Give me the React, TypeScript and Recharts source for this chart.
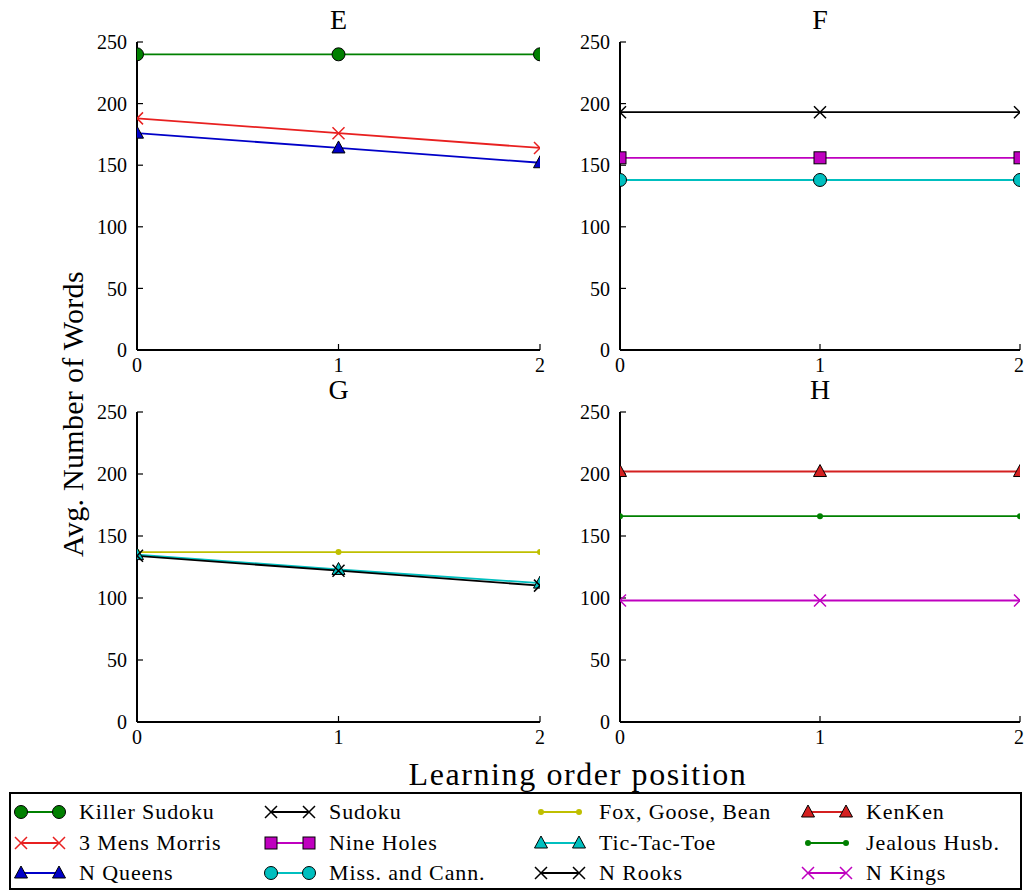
import React from 'react'
import { LineChart, Line, XAxis, YAxis } from 'recharts'

const FONT = '"Liberation Serif", "DejaVu Serif", serif'

const positions = [0, 1, 2]
const yTicks = [0, 50, 100, 150, 200, 250]

// panel E
const killerSudoku = [240, 240, 240]
const mensMorris = [188, 176, 164]
const nQueens = [176, 164, 152]
// panel F
const sudoku = [193, 193, 193]
const nineHoles = [156, 156, 156]
const missCann = [138, 138, 138]
// panel G
const foxGooseBean = [137, 137, 137]
const ticTacToe = [135, 123, 112]
const nRooks = [134, 122, 110]
// panel H
const kenKen = [202, 202, 202]
const jealousHusb = [166, 166, 166]
const nKings = [98, 98, 98]

type Marker = 'circle' | 'x' | 'triangle' | 'square' | 'point'
type Serie = { name: string; values: number[]; color: string; marker: Marker }

const panelE: Serie[] = [
  { name: 'Killer Sudoku', values: killerSudoku, color: '#008000', marker: 'circle' },
  { name: '3 Mens Morris', values: mensMorris, color: '#e82020', marker: 'x' },
  { name: 'N Queens', values: nQueens, color: '#0000c8', marker: 'triangle' },
]
const panelF: Serie[] = [
  { name: 'Sudoku', values: sudoku, color: '#000000', marker: 'x' },
  { name: 'Nine Holes', values: nineHoles, color: '#bf00bf', marker: 'square' },
  { name: 'Miss. and Cann.', values: missCann, color: '#00bfbf', marker: 'circle' },
]
const panelG: Serie[] = [
  { name: 'Fox, Goose, Bean', values: foxGooseBean, color: '#bfbf00', marker: 'point' },
  { name: 'Tic-Tac-Toe', values: ticTacToe, color: '#00bfbf', marker: 'triangle' },
  { name: 'N Rooks', values: nRooks, color: '#000000', marker: 'x' },
]
const panelH: Serie[] = [
  { name: 'KenKen', values: kenKen, color: '#d42020', marker: 'triangle' },
  { name: 'Jealous Husb.', values: jealousHusb, color: '#008000', marker: 'point' },
  { name: 'N Kings', values: nKings, color: '#bf00bf', marker: 'x' },
]

function drawMarker(m: Marker, color: string, cx: number, cy: number, key?: string) {
  switch (m) {
    case 'circle':
      return <circle key={key} cx={cx} cy={cy} r={6.5} fill={color} stroke="#000" strokeWidth={1} />
    case 'square':
      return <rect key={key} x={cx - 6} y={cy - 6} width={12} height={12} fill={color} stroke="#000" strokeWidth={1} />
    case 'triangle':
      return (
        <polygon key={key} points={`${cx},${cy - 7} ${cx + 6.5},${cy + 5} ${cx - 6.5},${cy + 5}`}
          fill={color} stroke="#000" strokeWidth={1} />
      )
    case 'x':
      return (
        <path key={key} d={`M${cx - 6},${cy - 6}L${cx + 6},${cy + 6}M${cx - 6},${cy + 6}L${cx + 6},${cy - 6}`}
          stroke={color} strokeWidth={1.5} fill="none" />
      )
    default:
      return <circle key={key} cx={cx} cy={cy} r={3} fill={color} />
  }
}

const tickStyle = { fill: '#000', fontSize: 20, fontFamily: FONT }
const axisLine = { stroke: '#000', strokeWidth: 2 }
const tickLine = { stroke: '#000', strokeWidth: 1.2 }
const Y_AXIS_W = 60
const X_AXIS_H = 30

type PanelProps = {
  title: string
  series: Serie[]
  left: number
  top: number
  width: number
  height: number
  margin: { top: number; right: number; bottom: number; left: number }
}

function Panel({ title, series, left, top, width, height, margin }: PanelProps) {
  const data = positions.map((p, i) => {
    const row: Record<string, number> = { pos: p }
    series.forEach((s, j) => { row['s' + j] = s.values[i] })
    return row
  })
  const plotLeft = margin.left + Y_AXIS_W
  const plotRight = width - margin.right
  const plotTop = margin.top
  const plotBottom = height - margin.bottom - X_AXIS_H
  // markers are cut at the axes box, like matplotlib does: a nested svg clips its content
  const clipped = (s: Serie, j: number) => (p: any) => (
    <svg key={`m-${title}-${j}-${p.index}`} x={plotLeft} y={plotTop}
      width={plotRight - plotLeft} height={plotBottom - plotTop} overflow="hidden">
      {drawMarker(s.marker, s.color, p.cx - plotLeft, p.cy - plotTop)}
    </svg>
  )
  return (
    <div style={{ position: 'absolute', left, top, width, height }}>
      <div style={{
        position: 'absolute', top: 11, left: (plotLeft + plotRight) / 2 - 40, width: 80,
        textAlign: 'center', fontFamily: FONT, fontSize: 28, lineHeight: '18px',
      }}>
        {title}
      </div>
      <LineChart width={width} height={height} data={data} margin={margin}>
        <XAxis dataKey="pos" type="number" domain={[0, 2]} ticks={positions} allowDataOverflow
          tickSize={-6} tickMargin={14} height={X_AXIS_H} axisLine={axisLine} tickLine={tickLine} tick={tickStyle} />
        <XAxis xAxisId="top" orientation="top" dataKey="pos" type="number" domain={[0, 2]} ticks={positions}
          allowDataOverflow tickSize={-6} height={0} tickFormatter={() => ''} axisLine={axisLine} tickLine={tickLine} />
        <YAxis type="number" domain={[0, 250]} ticks={yTicks} allowDataOverflow
          tickSize={-6} tickMargin={16} width={Y_AXIS_W} axisLine={axisLine} tickLine={tickLine} tick={tickStyle} />
        <YAxis yAxisId="right" orientation="right" type="number" domain={[0, 250]} ticks={yTicks} allowDataOverflow
          tickSize={-6} width={0} tickFormatter={() => ''} axisLine={axisLine} tickLine={tickLine} />
        {series.map((s, j) => (
          <Line key={s.name} dataKey={'s' + j} stroke={s.color} strokeWidth={1.8}
            isAnimationActive={false} dot={clipped(s, j)} activeDot={false} />
        ))}
      </LineChart>
    </div>
  )
}

const legendCols = [
  { series: panelE, textX: 79 },
  { series: panelF, textX: 329 },
  { series: panelG, textX: 599 },
  { series: panelH, textX: 866 },
]
const legendRowsY = [812, 843, 873]

function SharedLegend() {
  return (
    <div style={{
      position: 'absolute', left: 9, top: 792, width: 1013, height: 98,
      border: '2px solid #000', boxSizing: 'border-box',
    }}>
      {legendCols.map(col => col.series.map((s, ri) => (
        <React.Fragment key={s.name}>
          <svg style={{ position: 'absolute', left: col.textX - 9 - 70, top: legendRowsY[ri] - 792 - 2 - 12 }}
            width={60} height={24}>
            <line x1={10} y1={12} x2={48} y2={12} stroke={s.color} strokeWidth={1.8} />
            {drawMarker(s.marker, s.color, 10, 12)}
            {drawMarker(s.marker, s.color, 48, 12)}
          </svg>
          <div style={{
            position: 'absolute', left: col.textX - 9 - 2, top: legendRowsY[ri] - 792 - 2 - 14,
            fontFamily: FONT, fontSize: 22, letterSpacing: 0.9, lineHeight: '28px', whiteSpace: 'nowrap',
          }}>
            {s.name}
          </div>
        </React.Fragment>
      )))}
    </div>
  )
}

export default function App() {
  return (
    <div style={{ position: 'absolute', left: 0, top: 0, width: 1024, height: 890, background: '#fff', overflow: 'hidden' }}>
      <Panel title="E" series={panelE} left={0} top={0} width={560} height={380}
        margin={{ top: 42, right: 20, bottom: 0, left: 77 }} />
      <Panel title="F" series={panelF} left={560} top={0} width={464} height={380}
        margin={{ top: 42, right: 4, bottom: 0, left: 0 }} />
      <Panel title="G" series={panelG} left={0} top={370} width={560} height={382}
        margin={{ top: 42, right: 20, bottom: 0, left: 77 }} />
      <Panel title="H" series={panelH} left={560} top={370} width={464} height={382}
        margin={{ top: 42, right: 4, bottom: 0, left: 0 }} />
      <div style={{
        position: 'absolute', left: 73 - 200, top: 414 - 18, width: 400, height: 36,
        transform: 'rotate(-90deg)', textAlign: 'center',
        fontFamily: FONT, fontSize: 30, letterSpacing: 0.3, lineHeight: '36px', whiteSpace: 'nowrap',
      }}>
        Avg. Number of Words
      </div>
      <div style={{
        position: 'absolute', left: 378, top: 756, width: 400, textAlign: 'center',
        fontFamily: FONT, fontSize: 32, letterSpacing: 1.6, lineHeight: '36px', whiteSpace: 'nowrap',
      }}>
        Learning order position
      </div>
      <SharedLegend />
    </div>
  )
}
